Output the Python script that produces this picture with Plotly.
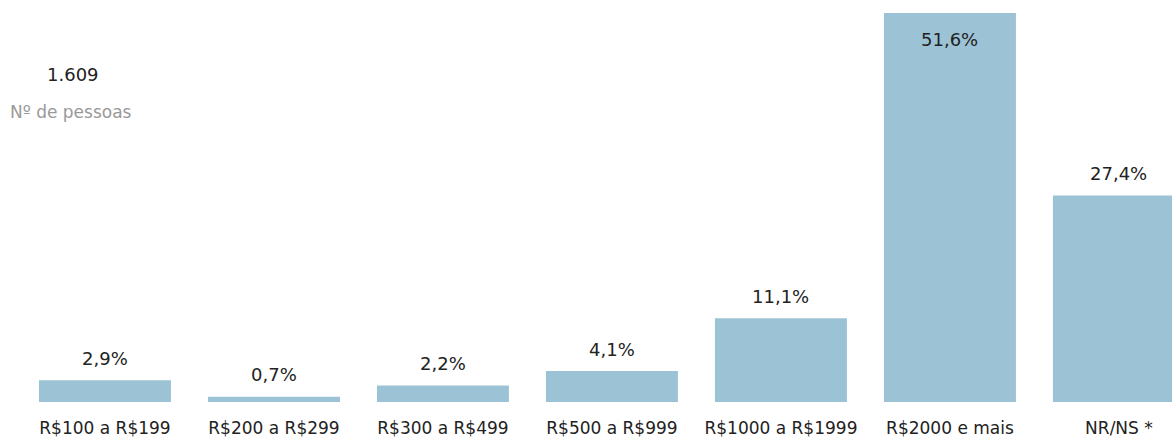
import plotly.graph_objects as go

# faixas de renda e percentuais
categorias = ["R$100 a R$199", "R$200 a R$299", "R$300 a R$499", "R$500 a R$999",
              "R$1000 a R$1999", "R$2000 e mais", "NR/NS *"]
percentuais = [2.9, 0.7, 2.2, 4.1, 11.1, 51.6, 27.4]
rotulos = ["2,9%", "0,7%", "2,2%", "4,1%", "11,1%", "51,6%", "27,4%"]
total_pessoas = "1.609"

cor_barra = "#9cc3d5"
fonte = "DejaVu Sans"

W, H = 1172, 438
base = 406  # linha de base das barras, em px a partir do topo

fig = go.Figure()
fig.add_trace(go.Bar(
    x=list(range(len(categorias))),
    y=percentuais,
    marker=dict(color=cor_barra, line=dict(width=0)),
    width=0.781,
    hoverinfo="skip",
))

# rotulos de valor: por cima da barra, menos a maior (por dentro)
maior = max(percentuais)
for i, (v, r) in enumerate(zip(percentuais, rotulos)):
    fig.add_annotation(x=i, y=v, text=r, showarrow=False,
                       xanchor="center", yanchor="middle",
                       yshift=-27 if v == maior else 22,
                       font=dict(family=fonte, size=18, color="#222222"))

fig.update_xaxes(
    tickmode="array",
    tickvals=list(range(len(categorias))),
    ticktext=categorias,
    range=[-0.621, 6.314],
    showgrid=False, zeroline=False, showline=False,
    ticks="outside", ticklen=11, tickcolor="white",
    tickfont=dict(family=fonte, size=17, color="#222222"),
)
fig.update_yaxes(range=[0, 53.31], visible=False, showgrid=False, zeroline=False)

fig.add_annotation(text=total_pessoas, xref="paper", yref="paper", x=45 / W, y=1 - 75 / base,
                   xanchor="left", yanchor="middle", showarrow=False,
                   font=dict(family=fonte, size=18, color="#222222"))
fig.add_annotation(text="Nº de pessoas", xref="paper", yref="paper", x=8 / W, y=1 - 113 / base,
                   xanchor="left", yanchor="middle", showarrow=False,
                   font=dict(family=fonte, size=17, color="#999999"))

fig.update_layout(
    width=W, height=H,
    margin=dict(l=0, r=0, t=0, b=H - base),
    plot_bgcolor="white", paper_bgcolor="white",
    showlegend=False,
)

# tira a margem padrao do body para a figura ocupar a janela toda
fig.write_html("out.html", config={"displayModeBar": False},
               post_script="document.body.style.margin='0';document.body.style.overflow='hidden';")
